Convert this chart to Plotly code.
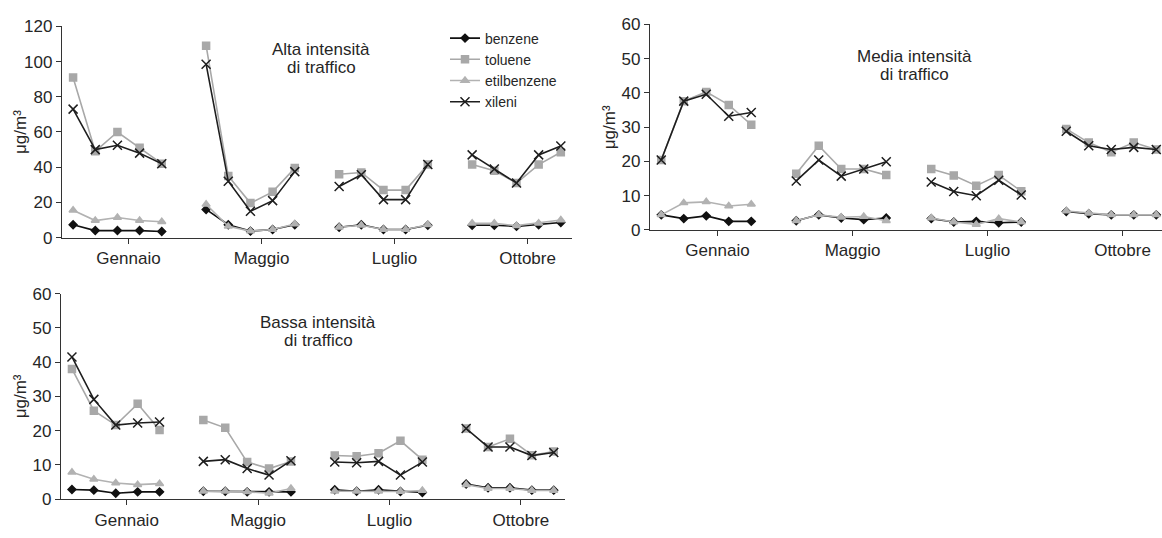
import plotly.graph_objects as go

months = ["Gennaio", "Maggio", "Luglio", "Ottobre"]
series_names = ["benzene", "toluene", "etilbenzene", "xileni"]

# Alta intensità di traffico (5 points per month)
alta_benzene = [7.3, 4, 4, 4, 3.5,   16, 7.3, 3.7, 4.6, 7.3,   5.9, 7.3, 4.6, 4.6, 7,   7, 7, 6.4, 7.3, 8.6]
alta_toluene = [91, 49, 60, 51, 42,  109, 35, 19.6, 26, 39.5,  36, 37, 27, 27, 41.5,  41.5, 38, 31, 41.5, 48.5]
alta_etil = [15.6, 9.7, 11.4, 9.7, 9,  18.9, 6.4, 3.7, 4.6, 7.7,  5.9, 7, 4.6, 4.6, 7.3,  8.2, 8.2, 6.8, 8.2, 10]
alta_xileni = [73, 50, 52.5, 48, 42,  98.5, 32, 15, 21, 37.5,  29, 35.7, 21.6, 21.6, 41.5,  47, 39, 31, 47, 52]

# Media intensità di traffico
media_benzene = [4.4, 3.3, 4.1, 2.5, 2.5,  2.7, 4.4, 3.5, 3.0, 3.5,  3.3, 2.3, 2.5, 2.1, 2.3,  5.4, 4.7, 4.4, 4.4, 4.4]
media_toluene = [20.4, 37.6, 40.3, 36.5, 30.7,  16.4, 24.6, 17.8, 17.8, 16,  17.8, 15.9, 12.9, 16, 11.3,  29.5, 25.5, 22.7, 25.5, 23.5]
media_etil = [4.4, 7.9, 8.2, 7, 7.5,  2.7, 4.4, 3.7, 3.9, 2.7,  3.5, 2.3, 1.6, 3.3, 2.3,  5.5, 4.9, 4.4, 4.4, 4.4]
media_xileni = [20.4, 37.6, 39.6, 33.2, 34.3,  14.3, 20.4, 15.7, 17.8, 19.9,  14, 11.2, 10, 14.5, 10.2,  28.8, 24.6, 23.5, 24.1, 23.5]

# Bassa intensità di traffico
bassa_benzene = [2.8, 2.6, 1.7, 2.1, 2.1,  2.3, 2.3, 2.1, 2.1, 2.1,  2.7, 2.3, 2.7, 2.2, 1.9,  4.4, 3.3, 3.3, 2.6, 2.6]
bassa_toluene = [38, 25.8, 21.6, 27.8, 20.2,  23.1, 20.8, 10.8, 8.9, 11,  12.7, 12.5, 13.4, 17, 11.5,  20.6, 15.2, 17.6, 12.8, 13.9]
bassa_etil = [7.8, 5.8, 4.7, 4.2, 4.5,  2.3, 2.3, 2.1, 1.7, 3.1,  2.3, 2.3, 2.3, 2.2, 2.5,  4.2, 3.1, 3.1, 2.5, 2.5]
bassa_xileni = [41.5, 29.1, 21.6, 22.2, 22.5,  11, 11.5, 8.9, 7, 11.2,  10.8, 10.6, 11, 7, 10.8,  20.6, 15.2, 15.2, 12.7, 13.6]

panel_titles = [
    ("Alta intensità", "di traffico"),
    ("Media intensità", "di traffico"),
    ("Bassa intensità", "di traffico"),
]
panel_data = [
    [alta_benzene, alta_toluene, alta_etil, alta_xileni],
    [media_benzene, media_toluene, media_etil, media_xileni],
    [bassa_benzene, bassa_toluene, bassa_etil, bassa_xileni],
]
panel_ymax = [120, 60, 60]
panel_dtick = [20, 10, 10]

styles = [
    dict(color="#111111", symbol="diamond", size=6, lw=1.6),
    dict(color="#a8a8a8", symbol="square", size=7, lw=1.6),
    dict(color="#b2b2b2", symbol="triangle-up", size=7, lw=1.6),
    dict(color="#1e1e1e", symbol="x-thin-open", size=9, lw=1.6),
]

W, H = 1162, 538
# pixel geometry for each panel: (x_left, x_right, y_top, y_bottom)
geom = [(62, 572, 18, 237), (650, 1162, 16, 229), (61, 565, 295, 508)]


def expand(vals):
    xs, ys = [], []
    for m in range(len(months)):
        for i in range(5):
            xs.append(6 * m + i)
            ys.append(vals[5 * m + i])
        xs.append(6 * m + 5)
        ys.append(None)
    return xs, ys


fig = go.Figure()
font_family = "Liberation Sans, Arial, sans-serif"
txt_color = "#262626"

for p, data in enumerate(panel_data):
    xa = "x" if p == 0 else f"x{p+1}"
    ya = "y" if p == 0 else f"y{p+1}"
    for s, vals in enumerate(data):
        st = styles[s]
        xs, ys = expand(vals)
        fig.add_trace(go.Scatter(
            x=xs, y=ys, xaxis=xa, yaxis=ya, mode="lines+markers",
            name=series_names[s], showlegend=(p == 0), connectgaps=False,
            line=dict(color=st["color"], width=st["lw"]),
            marker=dict(symbol=st["symbol"], size=st["size"], color=st["color"],
                        line=dict(color=st["color"], width=1.5)),
        ))
    xl, xr, yt, yb = geom[p]
    xdom = [xl / W, min(xr / W, 1.0)]
    ydom = [1 - yb / H, 1 - yt / H]
    slot = 22.17 if p == 0 else (22.5 if p == 1 else 21.9)
    xrange = [-0.5, -0.5 + (xr - xl) / slot]
    axis_common = dict(showgrid=False, zeroline=False, showline=True, linecolor="#333333",
                       linewidth=1.3, ticks="outside", tickcolor="#333333", tickwidth=1.3,
                       tickfont=dict(size=17, color=txt_color, family=font_family))
    fig.layout[("xaxis" if p == 0 else f"xaxis{p+1}")] = dict(
        domain=xdom, range=xrange, anchor=ya,
        tickmode="array", tickvals=[6 * m + 2.5 for m in range(len(months))], ticktext=months,
        ticklen=5, **axis_common)
    fig.layout[("yaxis" if p == 0 else f"yaxis{p+1}")] = dict(
        domain=ydom, range=[0, panel_ymax[p]], anchor=xa, dtick=panel_dtick[p], ticklen=5,
        **axis_common)
    # y-axis title
    fig.add_annotation(text="μg/m³", textangle=-90, xref="paper", yref="paper",
                       x=(xl - 41) / W, y=1 - ((yt + yb) / 2) / H, showarrow=False,
                       xanchor="center", yanchor="middle",
                       font=dict(size=17, color=txt_color, family=font_family))

# panel titles (two centred lines each)
title_pos = [(321, 42, 61), (914, 49, 68), (318, 325, 344)]
for (l1, l2), (cx, cy1, cy2) in zip(panel_titles, title_pos):
    for line, cy in ((l1, cy1), (l2, cy2)):
        fig.add_annotation(text=line, xref="paper", yref="paper", x=cx / W, y=1 - cy / H,
                           showarrow=False, align="center", xanchor="center", yanchor="middle",
                           font=dict(size=17, color=txt_color, family=font_family))

fig.update_layout(
    width=W, height=H, margin=dict(l=0, r=0, t=0, b=0),
    paper_bgcolor="white", plot_bgcolor="white",
    font=dict(family=font_family, color=txt_color),
    legend=dict(x=445 / W, y=1 - 14 / H, xanchor="left", yanchor="top",
                bgcolor="rgba(0,0,0,0)", font=dict(size=14, color=txt_color, family=font_family),
                itemwidth=30, tracegroupgap=0),
)

fig.write_html("out.html")
